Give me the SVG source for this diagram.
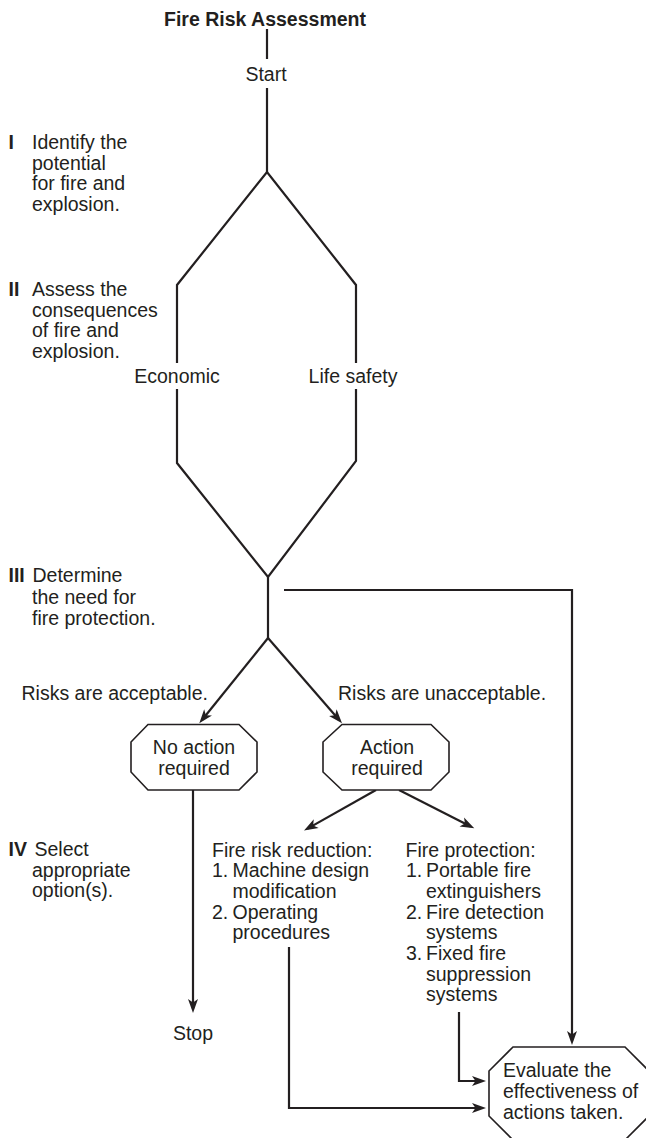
<svg xmlns="http://www.w3.org/2000/svg" width="646" height="1138" viewBox="0 0 646 1138">
  <style>
    .t { font-family: "Liberation Sans", Arial, Helvetica, sans-serif; font-size: 19.5px; fill: #231f20; }
    .b { font-weight: bold; }
    .m { text-anchor: middle; }
    .ln { fill: none; stroke: #231f20; stroke-width: 2.2; stroke-linejoin: miter; }
    .oct { fill: #ffffff; stroke: #231f20; stroke-width: 1.6; }
  </style>
  <defs>
    <marker id="arrow" markerUnits="userSpaceOnUse" markerWidth="14" markerHeight="10" refX="10" refY="5" orient="auto" overflow="visible">
      <path d="M0,0 L14,5 L0,10 L3.5,5 Z" fill="#231f20"/>
    </marker>
  </defs>

  <rect width="646" height="1138" fill="#ffffff"/>

  <!-- connectors -->
  <g id="connectors">
    <path class="ln" d="M267,29 V59"/>
    <path class="ln" d="M267,88 V172"/>
    <path class="ln" d="M177,363 V285 L267,172 L356,285 V363"/>
    <path class="ln" d="M177,389 V463 L268,577 L356,461 V389"/>
    <path class="ln" d="M268,577 V638"/>
    <path class="ln" d="M268,638 L201.8,720.2" marker-end="url(#arrow)"/>
    <path class="ln" d="M268,638 L339.4,720.2" marker-end="url(#arrow)"/>
    <path class="ln" d="M284,590 H572 V1041" marker-end="url(#arrow)"/>
    <path class="ln" d="M193,790 V1009" marker-end="url(#arrow)"/>
    <path class="ln" d="M376,790 L307.5,828.6" marker-end="url(#arrow)"/>
    <path class="ln" d="M399,790 L470.7,826.5" marker-end="url(#arrow)"/>
    <path class="ln" d="M289,947 V1108 H482" marker-end="url(#arrow)"/>
    <path class="ln" d="M459,1012 V1081 H482" marker-end="url(#arrow)"/>
  </g>

  <!-- title and flow labels -->
  <g id="title">
    <text class="t b m" x="265" y="26">Fire Risk Assessment</text>
  </g>
  <g id="start">
    <text class="t m" x="266" y="81">Start</text>
  </g>
  <g id="economic">
    <text class="t m" x="177" y="383">Economic</text>
  </g>
  <g id="life-safety">
    <text class="t m" x="353" y="383">Life safety</text>
  </g>
  <g id="risks-acceptable">
    <text class="t" x="21.5" y="700">Risks are acceptable.</text>
  </g>
  <g id="risks-unacceptable">
    <text class="t" x="338" y="700">Risks are unacceptable.</text>
  </g>

  <!-- step captions -->
  <g id="step-1">
    <text class="t b" x="8.5" y="149">I</text>
    <text class="t" x="32" y="149">Identify the</text>
    <text class="t" x="32" y="169.5">potential</text>
    <text class="t" x="32" y="190">for fire and</text>
    <text class="t" x="32" y="210.5">explosion.</text>
  </g>
  <g id="step-2">
    <text class="t b" x="8.5" y="296">II</text>
    <text class="t" x="32" y="296">Assess the</text>
    <text class="t" x="32" y="316.5">consequences</text>
    <text class="t" x="32" y="337">of fire and</text>
    <text class="t" x="32" y="357.5">explosion.</text>
  </g>
  <g id="step-3">
    <text class="t b" x="8.5" y="582">III</text>
    <text class="t" x="32.5" y="582">Determine</text>
    <text class="t" x="32" y="603.5">the need for</text>
    <text class="t" x="32" y="624.5">fire protection.</text>
  </g>
  <g id="step-4">
    <text class="t b" x="8.5" y="856">IV</text>
    <text class="t" x="34.5" y="856">Select</text>
    <text class="t" x="32" y="876.7">appropriate</text>
    <text class="t" x="32" y="897.4">option(s).</text>
  </g>

  <!-- decision outcomes -->
  <g id="no-action">
    <polygon class="oct" points="148,724.5 239,724.5 257,742 257,772 239,790 148,790 131,772 131,742"/>
    <text class="t m" x="194" y="753.5">No action</text>
    <text class="t m" x="194" y="774.5">required</text>
  </g>
  <g id="action">
    <polygon class="oct" points="342,724.5 431,724.5 449,742 449,772 431,790 342,790 323,772 323,742"/>
    <text class="t m" x="387" y="753.5">Action</text>
    <text class="t m" x="387" y="774.5">required</text>
  </g>
  <g id="stop">
    <text class="t m" x="193" y="1040">Stop</text>
  </g>

  <!-- option lists -->
  <g id="fire-risk-reduction">
    <text class="t" x="212" y="856.5">Fire risk reduction:</text>
    <text class="t" x="212" y="877.2">1.</text>
    <text class="t" x="232.5" y="877.2">Machine design</text>
    <text class="t" x="232.5" y="897.9">modification</text>
    <text class="t" x="212" y="918.6">2.</text>
    <text class="t" x="232.5" y="918.6">Operating</text>
    <text class="t" x="232.5" y="939.3">procedures</text>
  </g>
  <g id="fire-protection">
    <text class="t" x="405.5" y="856.5">Fire protection:</text>
    <text class="t" x="406" y="877.2">1.</text>
    <text class="t" x="426" y="877.2">Portable fire</text>
    <text class="t" x="426" y="897.9">extinguishers</text>
    <text class="t" x="406" y="918.6">2.</text>
    <text class="t" x="426" y="918.6">Fire detection</text>
    <text class="t" x="426" y="939.3">systems</text>
    <text class="t" x="406" y="960">3.</text>
    <text class="t" x="426" y="960">Fixed fire</text>
    <text class="t" x="426" y="980.7">suppression</text>
    <text class="t" x="426" y="1001.4">systems</text>
  </g>

  <!-- final review -->
  <g id="evaluate">
    <polygon class="oct" points="513,1047 625,1047 649,1071 649,1116 625,1140 513,1140 489,1116 489,1071"/>
    <text class="t" x="503" y="1077">Evaluate the</text>
    <text class="t" x="503" y="1098">effectiveness of</text>
    <text class="t" x="503" y="1119">actions taken.</text>
  </g>
</svg>
